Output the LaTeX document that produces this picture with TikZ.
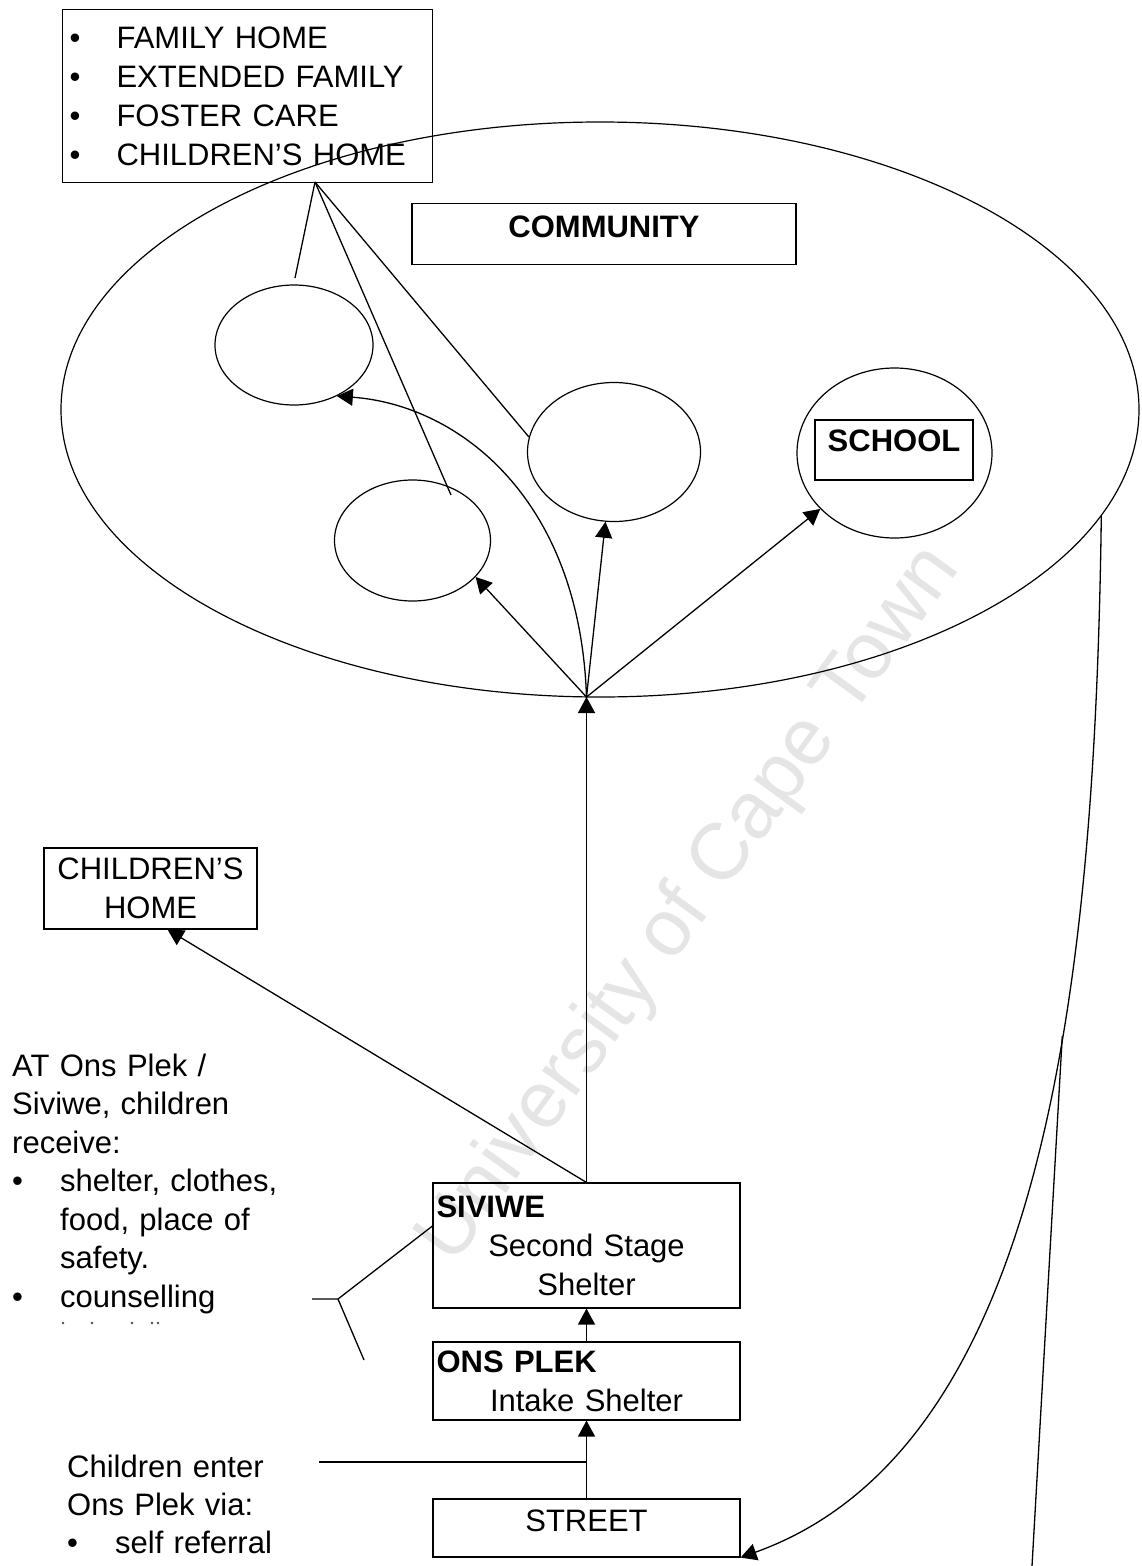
\documentclass[tikz,border=0pt]{standalone}
\usepackage{fontspec}
\setmainfont{Liberation Sans}
\usetikzlibrary{arrows.meta,shapes.geometric,calc}
\begin{document}
\begin{tikzpicture}[x=1pt,y=-1pt,
  every node/.style={font=\fontsize{31}{39}\selectfont, inner sep=0pt},
  box/.style={draw, line width=1.1pt, rectangle},
  oval/.style={draw, line width=1.2pt, ellipse, inner sep=0pt},
  con/.style={line width=1.3pt},
  arr/.style={con, -{Triangle[length=16pt,width=17pt]}},
  boldtxt/.style={font=\fontsize{31}{39}\selectfont\bfseries},
  ]
\useasboundingbox (0,0) rectangle (1141,1566);
\fill[white] (0,0) rectangle (1141,1566);

% watermark
\node[text=black!10, font=\fontsize{80}{90}\selectfont, rotate=54] (wm) at (690,905) {University of Cape Town};

% top list box
\node[box, anchor=north west, minimum width=370pt, minimum height=173pt,
      text width=356pt, align=left, inner xsep=7pt] (top) at (62,9)
  {\makebox[47pt][l]{•}FAMILY HOME\\
   \makebox[47pt][l]{•}EXTENDED FAMILY\\
   \makebox[47pt][l]{•}FOSTER CARE\\
   \makebox[47pt][l]{•}CHILDREN'S HOME};

% community ellipse
\node[oval, minimum width=1078pt, minimum height=575pt] (E) at (600,409.5) {};
\node[box, boldtxt, minimum width=384pt, minimum height=61pt, text depth=15pt] (comm) at (604,234) {COMMUNITY};

% circles
\node[oval, minimum width=158pt, minimum height=120pt] (cA) at (294,345) {};
\node[oval, minimum width=156pt, minimum height=121pt] (cB) at (412.5,540.5) {};
\node[oval, minimum width=173pt, minimum height=139pt] (cC) at (614,452) {};
\node[oval, minimum width=195pt, minimum height=170pt] (cS) at (894.5,453) {};
\node[box, boldtxt, minimum width=158pt, minimum height=60pt, text depth=18pt] (school) at (894,450) {SCHOOL};

% lower boxes
\node[box, minimum width=213pt, minimum height=81pt, align=center] (ch) at (150.5,888.5) {CHILDREN'S\\HOME};
\node[box, minimum width=307pt, minimum height=125pt, text width=300pt, align=center, inner xsep=3.5pt] (siv) at (586.5,1245.5)
  {\makebox[300pt][l]{\bfseries SIVIWE}\\Second Stage\\Shelter};
\node[box, minimum width=307pt, minimum height=78pt, text width=300pt, align=center, inner xsep=3.5pt] (ons) at (586.5,1381)
  {\makebox[300pt][l]{\bfseries ONS PLEK}\\Intake Shelter};
\node[box, minimum width=307pt, minimum height=58pt, text depth=14pt] (street) at (586.5,1528) {STREET};

% left texts
\node[anchor=base west, text width=300pt, align=left, font=\fontsize{31}{38.5}\selectfont] (recv) at (12,1076)
  {AT Ons Plek /\\Siviwe, children\\receive:\\
   \makebox[48pt][l]{•}shelter, clothes,\\
   \hspace*{48pt}food, place of\\
   \hspace*{48pt}safety.\\
   \makebox[48pt][l]{•}counselling};
\foreach \xx in {63,92,132,152,158} \fill[black!70] (\xx,1323) circle (1.3pt);
\node[anchor=base west, text width=300pt, align=left, font=\fontsize{31}{38}\selectfont] (enter) at (67,1477)
  {Children enter\\Ons Plek via:\\\makebox[48pt][l]{•}self referral};

% connectors from top box
\coordinate (tb) at (315,182);
\coordinate (aTop) at (295,278);
\coordinate (bIn) at (451,495);
\draw[con] (tb) -- (aTop);
\draw[con] (tb) -- (bIn);
\draw[con] (tb) -- (cC.170);

% arrows inside community
\coordinate (conv) at (586.5,697);
\draw[arr] (conv) .. controls (580,500) and (460,405) .. (cA.-50);
\draw[arr] (conv) -- (cB.-30);
\draw[arr] (conv) -- (cC.-97);
\draw[arr] (conv) -- (cS.-143);

% vertical flow
\draw[arr] (siv.north) -- (conv);
\draw[arr] (siv.north) -- ([xshift=17pt]ch.south);
\draw[arr] (ons.north) -- (siv.south);
\draw[arr] (street.north) -- (ons.south);

% children enter line
\coordinate (cin) at (319,1462);
\draw[con] (cin) -- (cin -| street.north);

% bracket
\coordinate (brL) at (312,1299);
\coordinate (br) at (338,1299);
\coordinate (brD) at (364,1360);
\draw[con] (brL) -- (br) -- ([yshift=19.5pt]siv.west);
\draw[con] (br) -- (brD);

% return curve
\draw[arr] (E.-12) .. controls (1095,1000) and (1040,1450) .. coordinate[pos=0.38] (jn) (street.south east);
\coordinate (bot) at (1032,1566);
\draw[con] (jn) -- (bot);
\end{tikzpicture}
\end{document}
